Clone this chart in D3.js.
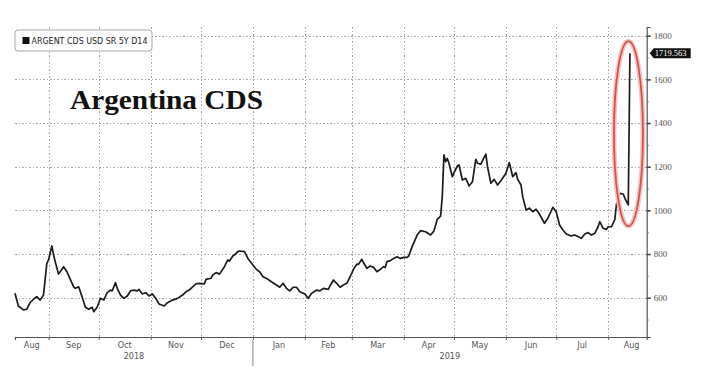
<!DOCTYPE html>
<html>
<head>
<meta charset="utf-8">
<script src="https://cdn.jsdelivr.net/npm/d3@7"></script>
<style>
  body { margin: 0; background: #fff; }
  svg text { font-family: "DejaVu Sans Condensed", "Liberation Sans Narrow", "DejaVu Sans", sans-serif; }
</style>
</head>
<body>
<div id="chart"></div>
<script>
// ARGENT CDS USD SR 5Y D14
var dates = [
  "2018-08-12","2018-08-14","2018-08-17","2018-08-19","2018-08-21","2018-08-23","2018-08-25","2018-08-27","2018-08-29","2018-08-31",
  "2018-09-01","2018-09-03","2018-09-04","2018-09-05","2018-09-07","2018-09-09","2018-09-10","2018-09-12","2018-09-14","2018-09-16","2018-09-17","2018-09-19","2018-09-21","2018-09-23","2018-09-25","2018-09-27","2018-09-28","2018-09-30",
  "2018-10-02","2018-10-04","2018-10-06","2018-10-08","2018-10-09","2018-10-11","2018-10-12","2018-10-14","2018-10-16","2018-10-18","2018-10-20","2018-10-22","2018-10-24","2018-10-25","2018-10-27","2018-10-29","2018-10-31",
  "2018-11-02","2018-11-04","2018-11-06","2018-11-09","2018-11-11","2018-11-14","2018-11-17","2018-11-20","2018-11-22","2018-11-24","2018-11-26","2018-11-28","2018-11-30",
  "2018-12-03","2018-12-04","2018-12-07","2018-12-08","2018-12-10","2018-12-12","2018-12-15","2018-12-17","2018-12-18","2018-12-20","2018-12-21","2018-12-23","2018-12-24","2018-12-27","2018-12-29",
  "2019-01-01","2019-01-03","2019-01-05","2019-01-07","2019-01-10","2019-01-12","2019-01-15","2019-01-17","2019-01-19","2019-01-21","2019-01-23","2019-01-25","2019-01-27","2019-01-29",
  "2019-02-01","2019-02-03","2019-02-05","2019-02-08","2019-02-10","2019-02-12","2019-02-15","2019-02-16","2019-02-18","2019-02-20","2019-02-22","2019-02-24","2019-02-26","2019-02-28",
  "2019-03-02","2019-03-04","2019-03-05","2019-03-07","2019-03-08","2019-03-10","2019-03-12","2019-03-14","2019-03-16","2019-03-18","2019-03-20","2019-03-21","2019-03-22","2019-03-24","2019-03-26","2019-03-28","2019-03-30",
  "2019-04-01","2019-04-03","2019-04-04","2019-04-06","2019-04-09","2019-04-11","2019-04-14","2019-04-17","2019-04-19","2019-04-21","2019-04-23","2019-04-24","2019-04-25","2019-04-26","2019-04-27","2019-04-28","2019-04-30",
  "2019-05-01","2019-05-03","2019-05-04","2019-05-06","2019-05-08","2019-05-10","2019-05-12","2019-05-14","2019-05-15","2019-05-17","2019-05-20","2019-05-21","2019-05-23","2019-05-25","2019-05-27","2019-05-29",
  "2019-06-01","2019-06-03","2019-06-04","2019-06-05","2019-06-07","2019-06-08","2019-06-10","2019-06-11","2019-06-13","2019-06-15","2019-06-17","2019-06-19","2019-06-21","2019-06-24","2019-06-26","2019-06-29",
  "2019-07-01","2019-07-03","2019-07-05","2019-07-07","2019-07-10","2019-07-12","2019-07-14","2019-07-16","2019-07-18","2019-07-20","2019-07-22","2019-07-24","2019-07-26","2019-07-27","2019-07-29","2019-07-31",
  "2019-08-01","2019-08-03","2019-08-05","2019-08-06","2019-08-08","2019-08-10","2019-08-11","2019-08-13","2019-08-14"
];
var cds = [
  620,562,544,547,577,593,605,589,612,757,
  773,837,796,765,708,730,742,719,684,650,643,650,605,556,547,556,536,556,
  597,589,623,635,631,669,643,612,597,608,632,635,631,638,617,623,608,
  617,597,571,562,577,589,597,612,627,635,650,663,666,
  663,684,689,704,715,708,742,773,768,791,796,811,814,811,780,
  750,730,719,696,684,673,658,648,666,643,631,648,648,627,
  617,597,620,635,631,643,638,654,681,666,648,658,666,696,
  730,754,753,776,760,735,745,739,719,730,742,739,765,770,780,788,780,
  785,785,791,834,887,907,902,887,905,959,974,1063,1254,1223,1238,1216,1154,
  1173,1203,1208,1139,1147,1112,1131,1234,1216,1212,1258,1200,1124,1142,1116,1136,
  1170,1219,1188,1154,1173,1142,1116,1063,1002,1010,994,1005,983,941,964,1014,
  994,933,910,892,883,887,880,872,892,898,887,895,925,948,918,913,
  925,925,959,1032,1078,1075,1055,1025,1719.563
];
var yTicks = [600, 800, 1000, 1200, 1400, 1600, 1800];
var yMinorTicks = [500, 700, 900, 1100, 1300, 1500, 1700];
var yearLabels = ["2018", "2019"];
var legendLabel = "ARGENT CDS USD SR 5Y D14";
var chartTitle = "Argentina CDS";
var lastLabel = "1719.563";

var W = 702, H = 376;
var parse = d3.timeParse("%Y-%m-%d");
var data = dates.map(function(d, i) { return { date: parse(d), v: cds[i] }; });

var x = d3.scaleTime()
    .domain([new Date(2018, 7, 12), new Date(2019, 7, 24)])
    .range([15, 646.7]);
var y = d3.scaleLinear().domain([420, 1840]).range([337, 27]);

var svg = d3.select("#chart").append("svg")
    .attr("width", W)
    .attr("height", H);
svg.append("rect").attr("width", W).attr("height", H).attr("fill", "#fff");

var monthStarts = d3.timeMonth.range(new Date(2018, 8, 1), new Date(2019, 7, 2));

// grid
var grid = svg.append("g")
    .attr("stroke", "#a9a9a9").attr("stroke-width", 1)
    .attr("stroke-dasharray", "1.5,2")
    .attr("shape-rendering", "crispEdges");
grid.selectAll("line.h").data(yTicks).join("line")
    .attr("class", "h")
    .attr("x1", x.range()[0]).attr("x2", x.range()[1])
    .attr("y1", d => Math.round(y(d)) + 0.5).attr("y2", d => Math.round(y(d)) + 0.5);
grid.selectAll("line.v").data(monthStarts).join("line")
    .attr("class", "v")
    .attr("x1", d => Math.round(x(d)) + 0.5).attr("x2", d => Math.round(x(d)) + 0.5)
    .attr("y1", y.range()[1]).attr("y2", y.range()[0]);

// right axis
var yAxis = svg.append("g")
    .attr("transform", "translate(" + x.range()[1] + ",0)")
    .call(d3.axisRight(y).tickValues(yTicks).tickFormat(d3.format("d")).tickSize(4).tickPadding(3));
yAxis.select(".domain").attr("stroke", "#555").attr("stroke-width", 1.2);
yAxis.selectAll(".tick line").attr("stroke", "#444").attr("stroke-width", 1.6);
yAxis.selectAll(".tick text")
    .attr("fill", "#555").style("font-size", "9px")
    .style("font-family", "'Liberation Serif', 'DejaVu Serif', serif");
var yMinor = svg.append("g")
    .attr("transform", "translate(" + x.range()[1] + ",0)")
    .call(d3.axisRight(y).tickValues(yMinorTicks).tickSize(2).tickFormat(""));
yMinor.select(".domain").remove();
yMinor.selectAll(".tick line").attr("stroke", "#777");

// bottom axis
var xAxis = svg.append("g")
    .attr("transform", "translate(0," + y.range()[0] + ")")
    .call(d3.axisBottom(x).tickValues(monthStarts).tickSize(3).tickFormat(""));
xAxis.select(".domain").attr("stroke", "#555").attr("stroke-width", 1.2);
xAxis.selectAll(".tick line").attr("stroke", "#666");

// month labels, centred in each month
var fmt = d3.timeFormat("%b");
var months = d3.timeMonth.range(new Date(2018, 7, 1), new Date(2019, 8, 1));
svg.append("g").selectAll("text").data(months).join("text")
    .attr("x", function(d) {
      var a = Math.max(x(d), x.range()[0]);
      var b = Math.min(x(d3.timeMonth.offset(d, 1)), x.range()[1]);
      var mid15 = x(new Date(d.getFullYear(), d.getMonth(), 15));
      return Math.max((a + b) / 2, mid15);
    })
    .attr("y", 348)
    .attr("text-anchor", "middle")
    .attr("fill", "#555")
    .style("font-size", "9px")
    .text(d => fmt(d));

// year labels and separator
var yearBreak = new Date(2019, 0, 1);
var yearSpans = [[x.range()[0], x(yearBreak)], [x(yearBreak), x.range()[1]]];
svg.append("g").selectAll("text").data(yearLabels).join("text")
    .attr("x", (d, i) => (yearSpans[i][0] + yearSpans[i][1]) / 2)
    .attr("y", 359)
    .attr("text-anchor", "middle")
    .attr("fill", "#555")
    .style("font-size", "9px")
    .text(d => d);
svg.append("line")
    .attr("x1", x(yearBreak)).attr("x2", x(yearBreak))
    .attr("y1", 340).attr("y2", 366)
    .attr("stroke", "#888").attr("stroke-width", 1);

// the series
var line = d3.line()
    .x(d => x(d.date))
    .y(d => y(d.v));
svg.append("path")
    .datum(data)
    .attr("fill", "none")
    .attr("stroke", "#1c1c1c")
    .attr("stroke-width", 1.7)
    .attr("stroke-linejoin", "round")
    .attr("d", line);

// last value tag
var last = data[data.length - 1];
var ly = y(last.v);
var ax = x.range()[1] + 3;
svg.append("path")
    .attr("d", "M" + ax + "," + ly + "L" + (ax + 4) + "," + (ly - 5) + "L" + (ax + 41) + "," + (ly - 5) +
               "L" + (ax + 41) + "," + (ly + 5) + "L" + (ax + 4) + "," + (ly + 5) + "Z")
    .attr("fill", "#111");
svg.append("text")
    .attr("x", ax + 5).attr("y", ly + 3.2)
    .attr("fill", "#fff")
    .style("font-size", "8.5px")
    .style("font-family", "'Liberation Serif', 'DejaVu Serif', serif")
    .text(lastLabel);

// red ring round the spike
var ringTop = 1775, ringBottom = 928;
var cx = x(last.date) - 1.5, cy = (y(ringTop) + y(ringBottom)) / 2;
var ry = (y(ringBottom) - y(ringTop)) / 2;
svg.append("ellipse")
    .attr("cx", cx).attr("cy", cy).attr("rx", 14.5).attr("ry", ry)
    .attr("fill", "none").attr("stroke", "#f3c4c4").attr("stroke-width", 5);
svg.append("ellipse")
    .attr("cx", cx).attr("cy", cy).attr("rx", 14.5).attr("ry", ry)
    .attr("fill", "none").attr("stroke", "#d8524c").attr("stroke-width", 1.8);

// legend
var lg = svg.append("g");
lg.append("rect")
    .attr("x", 15).attr("y", 30).attr("width", 137).attr("height", 21).attr("rx", 3)
    .attr("fill", "#fff").attr("stroke", "#a8a8a8");
lg.append("rect")
    .attr("x", 22.5).attr("y", 37).attr("width", 7).attr("height", 7)
    .attr("fill", "#111");
lg.append("text")
    .attr("x", 31.5).attr("y", 44.2)
    .attr("fill", "#222")
    .attr("textLength", 116).attr("lengthAdjust", "spacingAndGlyphs")
    .style("font-size", "8.5px")
    .text(legendLabel);

// title
svg.append("text")
    .attr("x", 70).attr("y", 109)
    .attr("fill", "#111")
    .attr("textLength", 193).attr("lengthAdjust", "spacingAndGlyphs")
    .style("font-family", "'Liberation Serif', 'Times New Roman', serif")
    .style("font-weight", "bold")
    .style("font-size", "28px")
    .text(chartTitle);
</script>
</body>
</html>
